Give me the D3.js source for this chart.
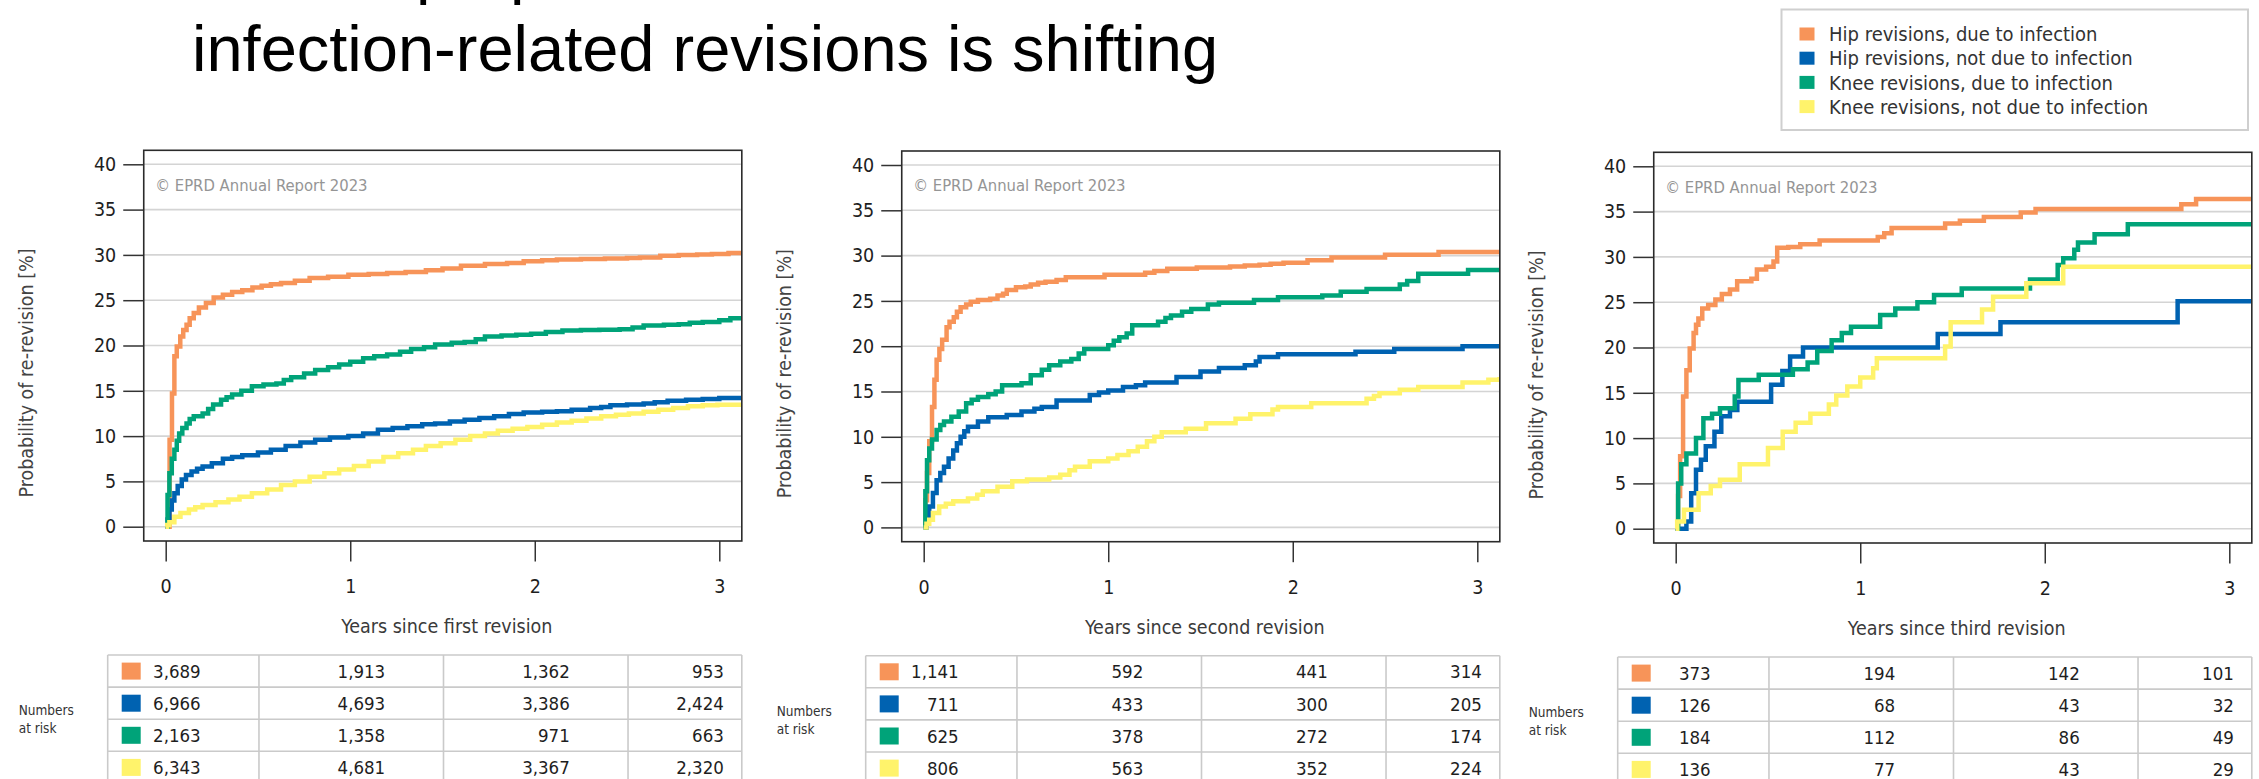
<!DOCTYPE html>
<html>
<head>
<meta charset="utf-8">
<script src="https://cdn.jsdelivr.net/npm/d3@7"></script>
<style>
  body { margin: 0; background: #fff; }
  svg text { font-family: "DejaVu Sans Condensed", "Liberation Sans Narrow", "DejaVu Sans", sans-serif; font-stretch: condensed; }
  .headline { font-family: "Liberation Sans", Arial, sans-serif !important; font-stretch: normal !important; }
</style>
</head>
<body>
<svg id="chart" width="2259" height="779"></svg>
<script>
// ---- Categories and labels ----
const seriesNames = [
  "Hip revisions, due to infection",
  "Hip revisions, not due to infection",
  "Knee revisions, due to infection",
  "Knee revisions, not due to infection"
];
const xTicks = [0, 1, 2, 3];
const yTicks = [0, 5, 10, 15, 20, 25, 30, 35, 40];
const xTitles = ["Years since first revision", "Years since second revision", "Years since third revision"];
const yTitle = "Probability of re-revision [%]";
const sourceNote = "\u00a9 EPRD Annual Report 2023";
const headlineLines = ["But the proportion of", "infection-related revisions is shifting"];

// ---- Cumulative probability of re-revision [%] : [years, percent] ----
// After the first revision
const hipInfFirst = [[0,0],[0.021,9.6],[0.034,14.7],[0.047,18.8],[0.06,19.9],[0.079,21],[0.095,21.7],[0.113,22.3],[0.13,23.0],[0.152,23.6],[0.18,24.2],[0.218,24.7],[0.26,25.3],[0.31,25.6],[0.36,25.9],[0.415,26.1],[0.47,26.4],[0.52,26.6],[0.57,26.75],[0.625,26.9],[0.7,27.15],[0.78,27.45],[0.88,27.6],[0.99,27.8],[1.1,27.9],[1.2,28.0],[1.3,28.1],[1.41,28.3],[1.5,28.5],[1.6,28.8],[1.73,29.0],[1.85,29.1],[1.94,29.3],[2.04,29.4],[2.12,29.5],[2.25,29.55],[2.38,29.6],[2.5,29.65],[2.57,29.7],[2.68,29.9],[2.78,30.0],[2.88,30.05],[2.96,30.1],[3.05,30.2],[3.12,30.3]];
const hipNonFirst = [[0,0],[0.01,0.8],[0.02,1.9],[0.033,2.9],[0.047,3.7],[0.065,4.5],[0.087,5.2],[0.11,5.7],[0.14,6.1],[0.17,6.4],[0.2,6.65],[0.25,7.0],[0.31,7.5],[0.36,7.7],[0.415,7.9],[0.5,8.2],[0.57,8.5],[0.65,8.9],[0.73,9.3],[0.81,9.6],[0.89,9.85],[0.99,10.0],[1.07,10.3],[1.15,10.7],[1.23,10.9],[1.31,11.1],[1.39,11.3],[1.46,11.4],[1.54,11.6],[1.62,11.8],[1.7,12.0],[1.78,12.2],[1.86,12.45],[1.94,12.6],[2.04,12.7],[2.12,12.75],[2.2,12.9],[2.3,13.1],[2.36,13.2],[2.41,13.4],[2.5,13.5],[2.59,13.6],[2.65,13.75],[2.72,13.9],[2.82,14.0],[2.91,14.1],[3.0,14.2],[3.12,14.3]];
const kneeInfFirst = [[0,0],[0.01,3.5],[0.02,5.9],[0.033,7.5],[0.047,8.5],[0.06,9.5],[0.073,10.3],[0.09,10.9],[0.113,11.4],[0.13,11.9],[0.152,12.2],[0.2,12.5],[0.23,13.0],[0.257,13.5],[0.3,14.0],[0.33,14.3],[0.36,14.6],[0.41,15.0],[0.467,15.5],[0.53,15.7],[0.6,15.8],[0.64,16.2],[0.68,16.5],[0.75,16.9],[0.81,17.3],[0.88,17.6],[0.94,17.9],[1.0,18.2],[1.07,18.6],[1.13,18.8],[1.2,19.0],[1.27,19.3],[1.33,19.6],[1.4,19.8],[1.46,20.1],[1.55,20.3],[1.62,20.4],[1.68,20.7],[1.73,21.0],[1.82,21.1],[1.9,21.2],[1.98,21.3],[2.06,21.5],[2.15,21.65],[2.25,21.7],[2.35,21.75],[2.46,21.8],[2.53,22.0],[2.59,22.2],[2.7,22.3],[2.78,22.35],[2.84,22.5],[2.91,22.6],[3.0,22.8],[3.06,23.0],[3.12,23.2]];
const kneeNonFirst = [[0,0],[0.008,0.2],[0.02,0.5],[0.047,1.1],[0.08,1.5],[0.126,1.9],[0.16,2.15],[0.2,2.4],[0.27,2.7],[0.34,3.0],[0.4,3.3],[0.467,3.7],[0.55,4.1],[0.625,4.6],[0.7,5.0],[0.78,5.5],[0.86,5.9],[0.94,6.3],[1.02,6.7],[1.1,7.2],[1.18,7.7],[1.26,8.1],[1.34,8.5],[1.41,8.9],[1.49,9.2],[1.57,9.6],[1.65,10.0],[1.73,10.3],[1.8,10.6],[1.88,10.8],[1.96,11.0],[2.04,11.25],[2.12,11.5],[2.2,11.7],[2.28,11.95],[2.36,12.2],[2.44,12.35],[2.51,12.5],[2.59,12.7],[2.67,12.9],[2.75,13.1],[2.83,13.3],[2.91,13.4],[2.99,13.45],[3.12,13.5]];

// After the second revision
const hipInfSecond = [[0,0],[0.009,3],[0.018,6],[0.03,9.5],[0.045,13.3],[0.058,16.3],[0.07,18.5],[0.085,19.7],[0.1,20.7],[0.124,22.1],[0.14,22.7],[0.163,23.2],[0.18,23.8],[0.2,24.3],[0.23,24.6],[0.255,24.9],[0.294,25.1],[0.36,25.25],[0.4,25.6],[0.43,25.8],[0.45,26.2],[0.5,26.5],[0.55,26.6],[0.58,26.8],[0.62,27.0],[0.66,27.1],[0.72,27.3],[0.77,27.6],[0.98,27.9],[1.2,28.1],[1.25,28.3],[1.32,28.55],[1.48,28.7],[1.66,28.8],[1.74,28.9],[1.82,29.0],[1.88,29.1],[1.95,29.2],[2.08,29.5],[2.21,29.8],[2.5,30.1],[2.79,30.4],[3.12,30.4]];
const hipNonSecond = [[0,0],[0.015,1.2],[0.03,2.3],[0.05,3.8],[0.07,5.2],[0.09,6.0],[0.11,6.7],[0.135,7.6],[0.16,8.5],[0.18,9.3],[0.2,10.0],[0.22,10.6],[0.24,11.1],[0.294,11.7],[0.35,12.15],[0.45,12.4],[0.53,12.8],[0.6,13.1],[0.64,13.3],[0.72,14.0],[0.9,14.6],[0.95,14.9],[1.0,15.1],[1.08,15.5],[1.15,15.7],[1.2,16.0],[1.37,16.6],[1.5,17.2],[1.6,17.6],[1.74,17.9],[1.8,18.3],[1.82,18.8],[1.92,19.1],[2.34,19.4],[2.55,19.7],[2.92,20.0],[3.12,20.0]];
const kneeInfSecond = [[0,0],[0.009,4],[0.018,7.4],[0.03,8.7],[0.045,9.7],[0.07,10.75],[0.09,11.3],[0.11,11.7],[0.15,12.2],[0.19,12.8],[0.23,13.7],[0.26,14.1],[0.294,14.4],[0.35,14.7],[0.39,15.0],[0.425,15.7],[0.53,15.9],[0.58,16.8],[0.64,17.4],[0.68,17.9],[0.74,18.3],[0.8,18.6],[0.84,19.2],[0.87,19.7],[1.0,20.1],[1.03,20.6],[1.06,21.0],[1.1,21.4],[1.13,22.3],[1.27,22.7],[1.31,23.1],[1.34,23.4],[1.4,23.8],[1.45,24.1],[1.54,24.6],[1.6,24.8],[1.79,25.1],[1.92,25.4],[2.16,25.6],[2.26,26.0],[2.4,26.3],[2.58,26.8],[2.62,27.2],[2.68,28.0],[2.95,28.4],[3.12,28.4]];
const kneeNonSecond = [[0,0],[0.015,0.4],[0.03,0.85],[0.05,1.6],[0.084,2.3],[0.12,2.6],[0.16,2.9],[0.24,3.2],[0.29,3.6],[0.32,4.0],[0.4,4.5],[0.48,5.1],[0.56,5.3],[0.68,5.5],[0.74,5.8],[0.79,6.3],[0.82,6.7],[0.9,7.3],[1.0,7.6],[1.05,8.0],[1.11,8.4],[1.16,8.9],[1.21,9.5],[1.25,10.0],[1.29,10.5],[1.42,10.9],[1.53,11.5],[1.69,12.0],[1.77,12.5],[1.89,13.0],[1.92,13.3],[2.1,13.7],[2.4,14.2],[2.44,14.5],[2.47,14.8],[2.58,15.2],[2.68,15.5],[2.92,16.0],[3.06,16.3],[3.12,16.6]];

// After the third revision
const hipInfThird = [[0,0],[0.013,3.6],[0.024,8.0],[0.04,14.6],[0.058,17.5],[0.076,19.9],[0.097,21.6],[0.11,22.5],[0.123,23.2],[0.144,24.3],[0.176,24.7],[0.215,25.3],[0.25,25.9],[0.294,26.4],[0.333,27.3],[0.41,27.6],[0.44,28.6],[0.49,28.9],[0.53,29.5],[0.55,31.0],[0.61,31.1],[0.675,31.4],[0.78,31.8],[1.095,32.2],[1.13,32.6],[1.17,33.2],[1.46,33.7],[1.54,34.0],[1.67,34.4],[1.87,34.9],[1.95,35.3],[2.74,35.8],[2.82,36.4],[3.12,36.4]];
const hipNonThird = [[0,0],[0.058,0.8],[0.084,3.9],[0.11,6.5],[0.137,7.6],[0.163,9.1],[0.21,10.7],[0.247,12.4],[0.294,13.1],[0.334,14.0],[0.517,15.9],[0.578,17.4],[0.62,19.0],[0.69,20.0],[1.42,21.5],[1.76,22.8],[2.72,25.1],[3.12,25.1]];
const kneeInfThird = [[0,0],[0.013,5.0],[0.03,7.1],[0.058,8.3],[0.11,10.0],[0.15,12.2],[0.197,12.7],[0.24,13.3],[0.32,14.6],[0.34,16.4],[0.45,17.0],[0.635,17.6],[0.715,18.35],[0.767,19.6],[0.845,20.8],[0.9,21.6],[0.95,22.3],[1.108,23.6],[1.19,24.3],[1.31,25.0],[1.4,25.8],[1.55,26.5],[1.92,27.5],[2.07,29.1],[2.1,29.85],[2.16,30.8],[2.18,31.6],[2.27,32.5],[2.45,33.6],[3.12,33.6]];
const kneeNonThird = [[0,0],[0.008,0.8],[0.045,2.1],[0.124,3.9],[0.19,4.7],[0.24,5.4],[0.347,7.1],[0.5,8.9],[0.58,10.7],[0.65,11.7],[0.73,12.7],[0.83,13.7],[0.87,14.7],[0.93,15.7],[1.0,16.7],[1.07,17.7],[1.09,18.8],[1.46,20.1],[1.49,22.8],[1.66,24.2],[1.72,25.6],[1.9,27.1],[2.1,28.9],[3.12,28.9]];

// ---- Numbers at risk at 0, 1, 2 and 3 years (rows follow seriesNames) ----
const riskFirst  = [[3689, 1913, 1362, 953], [6966, 4693, 3386, 2424], [2163, 1358, 971, 663], [6343, 4681, 3367, 2320]];
const riskSecond = [[1141, 592, 441, 314], [711, 433, 300, 205], [625, 378, 272, 174], [806, 563, 352, 224]];
const riskThird  = [[373, 194, 142, 101], [126, 68, 43, 32], [184, 112, 86, 49], [136, 77, 43, 29]];

// ---- Styling ----
const seriesColors = ["#f79459", "#0062b1", "#00a379", "#fff36b"];
const gridColor = "#d4d4d4";
const tableLine = "#cacaca";

const panels = [
  { series: [hipInfFirst, hipNonFirst, kneeInfFirst, kneeNonFirst], risk: riskFirst, xTitle: xTitles[0], dx: 0, dy: 0 },
  { series: [hipInfSecond, hipNonSecond, kneeInfSecond, kneeNonSecond], risk: riskSecond, xTitle: xTitles[1], dx: 758, dy: 0.7 },
  { series: [hipInfThird, hipNonThird, kneeInfThird, kneeNonThird], risk: riskThird, xTitle: xTitles[2], dx: 1510, dy: 2 }
];

const svg = d3.select("#chart");
const fmt = d3.format(",");

// Headline (its first line runs above the top edge)
svg.selectAll("text.headline").data(headlineLines).join("text")
  .attr("class", "headline")
  .attr("x", 192)
  .attr("y", (d, i) => -7.7 + i * 78.4)
  .attr("font-size", 65)
  .attr("fill", "#000")
  .text(d => d);

// Legend
const legend = svg.append("g");
legend.append("rect")
  .attr("x", 1781.5).attr("y", 9.5).attr("width", 466.5).attr("height", 120.5)
  .attr("fill", "#fff").attr("stroke", "#cfcfcf").attr("stroke-width", 2);
const legendItems = legend.selectAll("g.item").data(seriesNames).join("g")
  .attr("transform", (d, i) => `translate(1799.5, ${34 + i * 24.2})`);
legendItems.append("rect")
  .attr("x", 0).attr("y", -6.5).attr("width", 15).attr("height", 13)
  .attr("fill", (d, i) => seriesColors[i]);
legendItems.append("text")
  .attr("x", 29.5).attr("dy", "0.36em")
  .attr("font-size", 20).attr("fill", "#333")
  .text(d => d);

panels.forEach((p, pi) => {
  const g = svg.append("g");
  const x = d3.scaleLinear().domain([0, 3]).range([165.7 + p.dx, 719.3 + p.dx]);
  const y = d3.scaleLinear().domain([0, 40]).range([526.7 + p.dy, 164.3 + p.dy]);
  const left = x(-0.119), right = x(3.122);
  const top = 150.3 + p.dy, bottom = 541 + p.dy;

  // horizontal grid
  g.selectAll("line.grid").data(yTicks).join("line")
    .attr("x1", left).attr("x2", right)
    .attr("y1", d => y(d)).attr("y2", d => y(d))
    .attr("stroke", gridColor).attr("stroke-width", 1.6);

  // y axis ticks and labels
  const yAxis = d3.axisLeft(y).tickValues(yTicks).tickFormat(d3.format("d")).tickSize(20.5).tickPadding(7);
  const ya = g.append("g").attr("transform", `translate(${left},0)`).call(yAxis);
  ya.select(".domain").remove();
  ya.selectAll(".tick line").attr("stroke", "#333").attr("stroke-width", 1.5);
  ya.selectAll(".tick text").attr("font-size", 19.5).attr("fill", "#1e1e1e")
    .attr("font-family", null);

  // x axis ticks and labels
  const xAxis = d3.axisBottom(x).tickValues(xTicks).tickFormat(d3.format("d")).tickSize(20.5).tickPadding(18);
  const xa = g.append("g").attr("transform", `translate(0,${bottom})`).call(xAxis);
  xa.select(".domain").remove();
  xa.selectAll(".tick line").attr("stroke", "#333").attr("stroke-width", 1.5);
  xa.selectAll(".tick text").attr("font-size", 19.5).attr("fill", "#1e1e1e")
    .attr("font-family", null);

  // source note
  g.append("text").attr("x", left + 11.5).attr("y", 190.7 + p.dy)
    .attr("font-size", 16.5).attr("fill", "#959595").text(sourceNote);

  // curves (Kaplan-Meier style steps)
  const clipId = `plotClip${pi}`;
  g.append("clipPath").attr("id", clipId).append("rect")
    .attr("x", left).attr("y", top).attr("width", right - left).attr("height", bottom - top);
  const line = d3.line().x(d => x(d[0])).y(d => y(d[1])).curve(d3.curveStepAfter);
  g.append("g").attr("clip-path", `url(#${clipId})`)
    .selectAll("path").data(p.series).join("path")
    .attr("d", line)
    .attr("fill", "none")
    .attr("stroke", (d, i) => seriesColors[i])
    .attr("stroke-width", 4.5)
    .attr("stroke-linejoin", "miter");

  // plot frame
  g.append("rect").attr("x", left).attr("y", top)
    .attr("width", right - left).attr("height", bottom - top)
    .attr("fill", "none").attr("stroke", "#2b2b2b").attr("stroke-width", 1.6);

  // axis titles
  g.append("text")
    .attr("transform", `translate(${26 + p.dx},${373 + p.dy}) rotate(-90)`)
    .attr("text-anchor", "middle").attr("dy", "0.35em")
    .attr("font-size", 19.5).attr("fill", "#444").text(yTitle);
  g.append("text")
    .attr("x", (left + right) / 2 + 4).attr("y", 626.5 + p.dy).attr("dy", "0.35em")
    .attr("text-anchor", "middle").attr("font-size", 19.5).attr("fill", "#3a3a3a")
    .text(p.xTitle);

  // numbers-at-risk table
  const rowH = 32.1;
  const tTop = 655 + p.dy;
  const tLeft = x(0) - 58;
  const cols = [tLeft, x(0.5) + 1, x(1.5) + 1, x(2.5) + 1, right];
  const rowsIdx = d3.range(5);
  g.selectAll("line.hrow").data(rowsIdx).join("line")
    .attr("x1", tLeft).attr("x2", right)
    .attr("y1", d => tTop + d * rowH).attr("y2", d => tTop + d * rowH)
    .attr("stroke", tableLine).attr("stroke-width", 1.6);
  g.selectAll("line.vcol").data(cols).join("line")
    .attr("x1", d => d).attr("x2", d => d)
    .attr("y1", tTop).attr("y2", tTop + 4 * rowH)
    .attr("stroke", tableLine).attr("stroke-width", 1.6);

  const rows = g.selectAll("g.row").data(p.risk).join("g")
    .attr("transform", (d, i) => `translate(0,${tTop + i * rowH})`);
  rows.append("rect")
    .attr("x", tLeft + 14).attr("y", 7.6).attr("width", 19).attr("height", 17)
    .attr("fill", (d, i) => seriesColors[i]);
  rows.selectAll("text").data(d => d).join("text")
    .attr("x", (d, k) => k < 3 ? x(xTicks[k]) + 35 : right - 18)
    .attr("y", rowH / 2).attr("dy", "0.36em")
    .attr("text-anchor", "end").attr("font-size", 18.5).attr("fill", "#1e1e1e")
    .text(d => fmt(d));

  const lab = g.append("text").attr("font-size", 13.5).attr("fill", "#333");
  lab.append("tspan").attr("x", tLeft - 89).attr("y", 710 + p.dy).attr("dy", "0.36em").text("Numbers");
  lab.append("tspan").attr("x", tLeft - 89).attr("y", 728.3 + p.dy).attr("dy", "0.36em").text("at risk");
});
</script>
</body>
</html>
